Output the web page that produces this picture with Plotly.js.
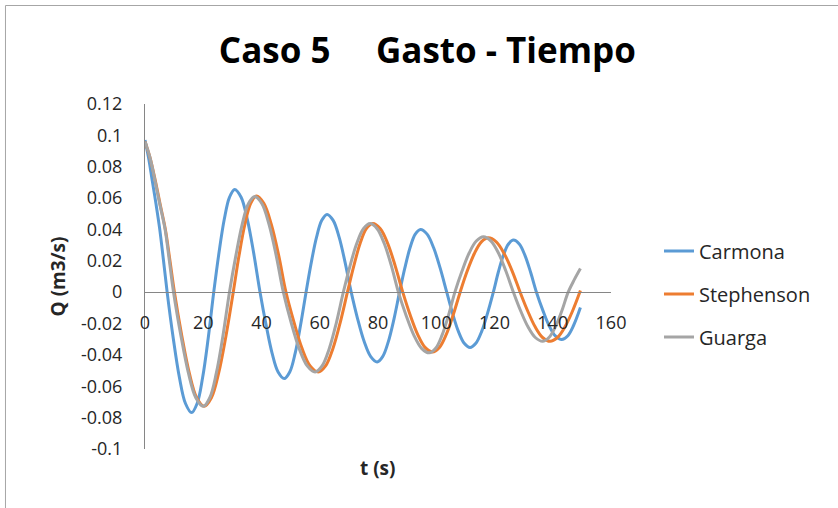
<!DOCTYPE html>
<html>
<head>
<meta charset="utf-8">
<script src="https://cdn.plot.ly/plotly-3.0.1.min.js"></script>
<style>html,body{margin:0;padding:0;background:#fff;}#chart{width:838px;height:508px;}</style>
</head>
<body>
<div id="chart"></div>
<script>
// Carmona
var tCarmona = [0, 1.3, 2.5, 3.8, 5.0, 6.3, 7.6, 9.7, 11.8, 13.9, 16.0, 17.9, 19.8, 21.7, 23.6, 25.4, 27.2, 29.0, 30.8, 33.0, 35.15, 37.3, 39.5, 41.6, 43.65, 45.7, 47.8, 49.7, 51.55, 53.4, 55.3, 57.1, 58.9, 60.7, 62.5, 64.6, 66.65, 68.7, 70.8, 73.0, 75.25, 77.5, 79.7, 81.6, 83.55, 85.5, 87.4, 89.2, 91.0, 92.8, 94.6, 96.85, 99.1, 101.35, 103.6, 105.6, 107.6, 109.6, 111.6, 113.6, 115.6, 117.6, 119.6, 121.3, 123.05, 124.8, 126.5, 128.5, 130.45, 132.4, 134.4, 136.6, 138.75, 140.9, 143.1, 145.1, 147.1, 149.5];
var qCarmona = [0.097, 0.085, 0.071, 0.056, 0.041, 0.021, 0, -0.0294, -0.0543, -0.0710, -0.0768, -0.0710, -0.0543, -0.0294, 0, 0.0251, 0.0463, 0.0605, 0.0655, 0.0605, 0.0463, 0.0251, 0, -0.0211, -0.0390, -0.0509, -0.0551, -0.0509, -0.0390, -0.0211, 0, 0.0190, 0.0351, 0.0458, 0.0496, 0.0458, 0.0351, 0.0190, 0, -0.0170, -0.0315, -0.0411, -0.0445, -0.0411, -0.0315, -0.0170, 0, 0.0153, 0.0283, 0.0370, 0.0400, 0.0370, 0.0283, 0.0153, 0, -0.0135, -0.0250, -0.0326, -0.0353, -0.0326, -0.0250, -0.0135, 0, 0.0127, 0.0235, 0.0307, 0.0332, 0.0307, 0.0235, 0.0127, 0, -0.0116, -0.0214, -0.0279, -0.0302, -0.0279, -0.0214, -0.0098];
// Stephenson
var tStephenson = [0, 1.7, 3.5, 5.2, 7.0, 8.5, 10.1, 12.65, 15.2, 17.75, 20.3, 22.8, 25.3, 27.8, 30.3, 32.3, 34.3, 36.3, 38.3, 40.8, 43.35, 45.9, 48.4, 51.2, 53.95, 56.7, 59.5, 62.0, 64.5, 67.0, 69.5, 71.7, 73.85, 76.0, 78.2, 80.8, 83.35, 85.9, 88.5, 91.05, 93.6, 96.15, 98.7, 101.1, 103.45, 105.8, 108.2, 110.6, 113.05, 115.5, 117.9, 120.6, 123.35, 126.1, 128.8, 131.4, 133.95, 136.5, 139.1, 141.6, 144.2, 146.8, 149.5];
var qStephenson = [0.096, 0.086, 0.0715, 0.056, 0.040, 0.021, 0, -0.0279, -0.0515, -0.0673, -0.0728, -0.0673, -0.0515, -0.0279, 0, 0.0235, 0.0433, 0.0566, 0.0613, 0.0566, 0.0433, 0.0235, 0, -0.0195, -0.0360, -0.0470, -0.0509, -0.0470, -0.0360, -0.0195, 0, 0.0168, 0.0310, 0.0405, 0.0438, 0.0405, 0.0310, 0.0168, 0, -0.0146, -0.0269, -0.0352, -0.0381, -0.0352, -0.0269, -0.0146, 0, 0.0133, 0.0245, 0.0321, 0.0347, 0.0321, 0.0245, 0.0133, 0, -0.0120, -0.0221, -0.0289, -0.0313, -0.0289, -0.0221, -0.0120, 0.0010];
// Guarga
var tGuarga = [0, 1.7, 3.4, 5.1, 6.9, 8.3, 9.8, 12.35, 14.9, 17.45, 20.0, 22.25, 24.5, 26.75, 29.0, 31.2, 33.35, 35.5, 37.7, 40.15, 42.6, 45.05, 47.5, 50.2, 52.95, 55.7, 58.4, 60.8, 63.25, 65.7, 68.1, 70.4, 72.7, 75.0, 77.3, 79.7, 82.15, 84.6, 87.0, 89.65, 92.3, 94.95, 97.6, 99.8, 102.0, 104.2, 106.4, 108.85, 111.3, 113.75, 116.2, 118.8, 121.35, 123.9, 126.5, 129.0, 131.5, 134.0, 136.5, 138.7, 140.9, 143.1, 145.3, 147.4, 149.5];
var qGuarga = [0.096, 0.086, 0.0715, 0.056, 0.040, 0.021, 0, -0.0279, -0.0515, -0.0673, -0.0728, -0.0673, -0.0515, -0.0279, 0, 0.0233, 0.0431, 0.0564, 0.0610, 0.0564, 0.0431, 0.0233, 0, -0.0195, -0.0360, -0.0470, -0.0509, -0.0470, -0.0360, -0.0195, 0, 0.0168, 0.0310, 0.0405, 0.0438, 0.0405, 0.0310, 0.0168, 0, -0.0148, -0.0274, -0.0358, -0.0387, -0.0358, -0.0274, -0.0148, 0, 0.0135, 0.0250, 0.0326, 0.0353, 0.0326, 0.0250, 0.0135, 0, -0.0120, -0.0221, -0.0289, -0.0313, -0.0289, -0.0221, -0.0120, 0, 0.0080, 0.0151];

var yTickVals = [0.12, 0.1, 0.08, 0.06, 0.04, 0.02, 0, -0.02, -0.04, -0.06, -0.08, -0.1];
var yTickText = ["0.12", "0.1", "0.08", "0.06", "0.04", "0.02", "0", "-0.02", "-0.04", "-0.06", "-0.08", "-0.1"];
var xTickVals = [0, 20, 40, 60, 80, 100, 120, 140, 160];
var xTickText = ["0", "20", "40", "60", "80", "100", "120", "140", "160"];

var FONT = "Open Sans, Noto Sans, sans-serif";
function tr(name, x, y, color, g) {
  return {x: x, y: y, name: name, type: 'scatter', mode: 'lines', legendgroup: g,
    line: {color: color, width: 3, shape: 'spline', smoothing: 1}};
}
var data = [
  tr('Carmona', tCarmona, qCarmona, '#5B9BD5', 'a'),
  tr('Stephenson', tStephenson, qStephenson, '#ED7D31', 'b'),
  tr('Guarga', tGuarga, qGuarga, '#A5A5A5', 'c')
];
var layout = {
  width: 838, height: 508,
  margin: {l: 145, r: 227, t: 104, b: 59},
  paper_bgcolor: '#fff', plot_bgcolor: 'rgba(0,0,0,0)',
  font: {family: FONT, color: '#262626', size: 18},
  title: {text: 'Caso 5\u00a0\u00a0\u00a0\u00a0\u00a0Gasto - Tiempo', font: {family: FONT, size: 35, color: '#000', weight: 'bold'},
    x: 0.51, xref: 'container', xanchor: 'center', y: 0.9, yref: 'container', yanchor: 'middle'},
  xaxis: {range: [0, 160], tickvals: xTickVals, ticktext: xTickText, showgrid: false, zeroline: false,
    showline: true, linecolor: '#868686', linewidth: 1, ticks: '', anchor: 'free', position: 0.455,
    ticklabelstandoff: 14, tickfont: {size: 18, color: '#262626'},
    title: {text: ''}},
  yaxis: {range: [-0.1, 0.12], tickvals: yTickVals, ticktext: yTickText, showgrid: false, zeroline: false,
    showline: true, linecolor: '#868686', linewidth: 1, ticks: '', ticklabelstandoff: 18,
    tickfont: {size: 18, color: '#262626'},
    title: {text: 'Q (m3/s)', font: {size: 19, weight: 'bold', color: '#262626'}, standoff: 10}},
  legend: {x: 1.103, xanchor: 'left', y: 0.449, yanchor: 'middle', font: {size: 20, color: '#262626'},
    tracegroupgap: 14, bgcolor: 'rgba(0,0,0,0)'},
  showlegend: true,
  annotations: [{text: 't (s)', xref: 'paper', yref: 'paper', x: 0.5, y: -0.055, xanchor: 'center', yanchor: 'middle',
    showarrow: false, font: {size: 19, weight: 'bold', color: '#262626', family: FONT}}],
  shapes: [{type: 'rect', xref: 'paper', yref: 'paper', x0: -0.2994, x1: 1.52, y0: -0.2, y1: 1.2855,
    line: {color: '#A6A6A6', width: 1}, fillcolor: 'rgba(0,0,0,0)', layer: 'below'}]
};
Plotly.newPlot('chart', data, layout, {displayModeBar: false, staticPlot: true});
</script>
</body>
</html>
